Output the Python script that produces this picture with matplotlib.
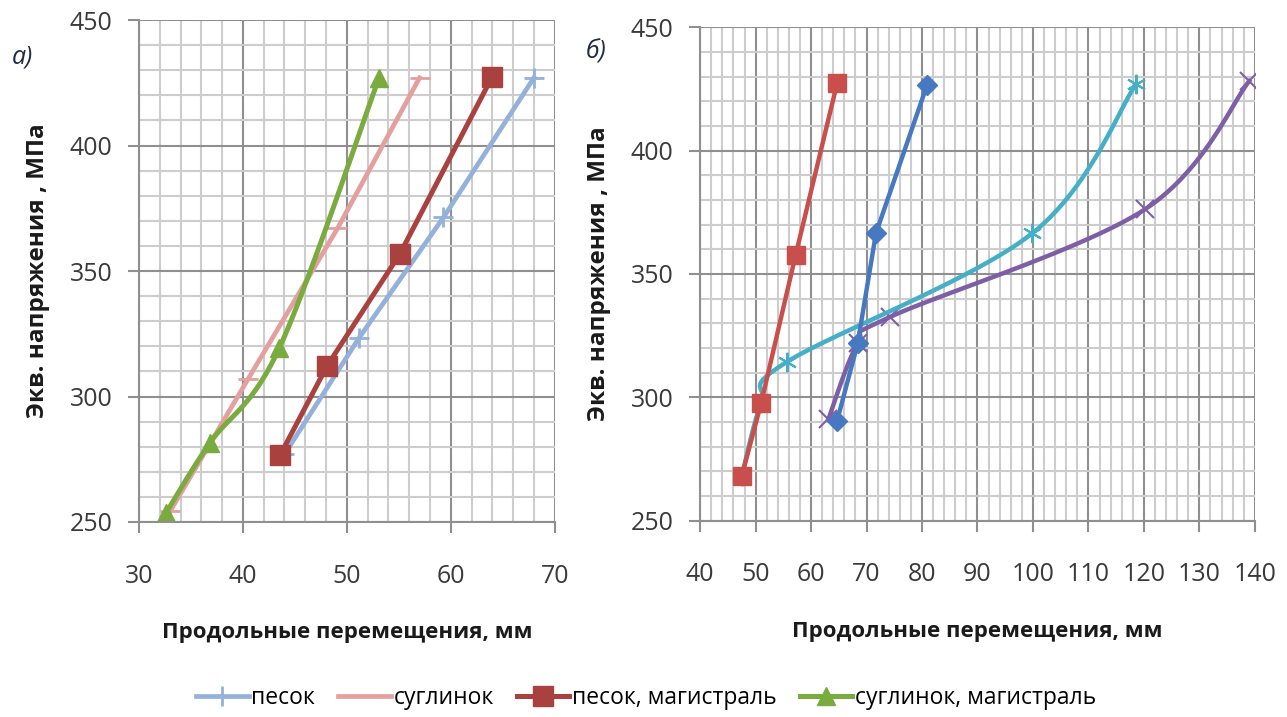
import matplotlib
matplotlib.use("Agg")
import matplotlib.pyplot as plt
import numpy as np
from matplotlib.ticker import MultipleLocator

plt.rcParams['font.family'] = ['Open Sans', 'DejaVu Sans']

# panel a) values
sand_x = [44.0, 51.2, 59.3, 68.0]
sand_y = [277, 323.5, 371.4, 427]
loam_x = [33.0, 40.5, 49.1, 57.0]
loam_y = [254.3, 307, 367, 427]
sand_main_x = [43.6, 48.1, 55.1, 64.0]
sand_main_y = [276.8, 312.2, 356.8, 427.5]
loam_main_x = [32.6, 36.8, 43.5, 53.1]
loam_main_y = [253.6, 281.4, 319.3, 427]

# panel б) values
red_b_x = [47.5, 51.0, 57.2, 64.7]
red_b_y = [268, 297.6, 357.5, 427.3]
blue_b_x = [64.7, 68.4, 71.7, 80.9]
blue_b_y = [290.5, 321.8, 366.5, 426.5]
cyan_b_x = [47.5, 51.0, 55.7, 99.9, 118.6]
cyan_b_y = [268, 297.6, 314.4, 366.5, 427]
purple_b_x = [63.1, 68.4, 74.2, 120.2, 139.0]
purple_b_y = [291, 321.8, 332.5, 376.2, 428.2]

legend_labels = ['песок', 'суглинок', 'песок, магистраль', 'суглинок, магистраль']
xlabel = 'Продольные перемещения, мм'
ylabel = 'Экв. напряжения , МПа'


# Excel-like smoothed line (Catmull-Rom as cubic Bezier), returns curve and marker indices
def smooth(xs, ys, n=30):
    p = np.column_stack([xs, ys]).astype(float)
    out = [p[:1]]
    for i in range(len(p) - 1):
        p0 = p[i - 1] if i > 0 else p[i]
        p3 = p[i + 2] if i + 2 < len(p) else p[i + 1]
        p1, p2 = p[i], p[i + 1]
        c1 = p1 + (p2 - p0) / 6
        c2 = p2 - (p3 - p1) / 6
        t = np.linspace(0, 1, n + 1)[1:][:, None]
        seg = (1 - t) ** 3 * p1 + 3 * (1 - t) ** 2 * t * c1 + 3 * (1 - t) * t ** 2 * c2 + t ** 3 * p2
        out.append(seg)
    c = np.vstack(out)
    return c[:, 0], c[:, 1], list(range(0, len(c), n))


def setup(ax, xmin, xmax):
    ax.set_xlim(xmin, xmax)
    ax.set_ylim(250, 450)
    ax.xaxis.set_major_locator(MultipleLocator(10))
    ax.xaxis.set_minor_locator(MultipleLocator(2))
    ax.yaxis.set_major_locator(MultipleLocator(50))
    ax.yaxis.set_minor_locator(MultipleLocator(10))
    ax.grid(which='minor', color='#cdcdcd', lw=1.5)
    ax.grid(which='major', color='#8f8f8f', lw=1.5)
    ax.set_axisbelow(True)
    for s in ['top', 'right']:
        ax.spines[s].set_visible(False)
    for s in ['left', 'bottom']:
        ax.spines[s].set_color('#8f8f8f')
        ax.spines[s].set_linewidth(1.5)
    ax.tick_params(which='major', direction='out', length=8, width=1.5, color='#8f8f8f',
                   labelsize=18, labelcolor='#3a3a3a')
    ax.tick_params(axis='x', which='major', pad=22)
    ax.tick_params(axis='y', which='major', pad=11)
    ax.tick_params(which='minor', length=0)
    ax.set_ylabel(ylabel, fontsize=17.5, fontweight='bold', color='#1a1a1a', labelpad=14)
    ax.set_xlabel(xlabel, fontsize=16, fontweight='bold', color='#1a1a1a', labelpad=24)


fig = plt.figure(figsize=(12.87, 7.17), dpi=100)
ax1 = fig.add_axes([0.108, 0.272, 0.323, 0.70])
ax2 = fig.add_axes([0.544, 0.274, 0.431, 0.688])
setup(ax1, 30, 70)
setup(ax2, 40, 140)

# panel a)
l1, = ax1.plot(sand_x, sand_y, color='#93b1da', lw=3.4, marker='+', ms=14, mew=2)
l2, = ax1.plot(loam_x, loam_y, color='#e3a09f', lw=3.4, marker='_', ms=14, mew=2)
l3, = ax1.plot(sand_main_x, sand_main_y, color='#a9413f', lw=3.6, marker='s', ms=14)
gx, gy, gm = smooth(loam_main_x, loam_main_y)
l4, = ax1.plot(gx, gy, color='#7aab3f', lw=3.6, marker='^', ms=13, markevery=gm)

# panel б)
px, py, pm = smooth(purple_b_x, purple_b_y)
ax2.plot(px, py, color='#7e5fa6', lw=3.2, marker='x', ms=13, mew=1.5, markevery=pm)
cx, cy, cm = smooth(cyan_b_x, cyan_b_y)
ax2.plot(cx, cy, color='#45afc8', lw=3.2, marker=(6, 2, 0), ms=14, mew=1.5, markevery=cm)
ax2.plot(blue_b_x, blue_b_y, color='#4679c2', lw=3.2, marker='D', ms=10)
ax2.plot(red_b_x, red_b_y, color='#c84f4b', lw=3.2, marker='s', ms=13)

fig.text(0.009, 0.92, 'а)', fontsize=18, style='italic', color='#1f2a44', va='center')
fig.text(0.455, 0.928, 'б)', fontsize=18, style='italic', color='#1f2a44', va='center')

fig.legend([l1, l2, l3, l4], legend_labels, loc='center', bbox_to_anchor=(0.502, 0.027),
           ncol=4, frameon=False, fontsize=16.5, handlelength=2.3, handletextpad=0.12,
           columnspacing=1.0)

fig.savefig('out.png', dpi=100)
